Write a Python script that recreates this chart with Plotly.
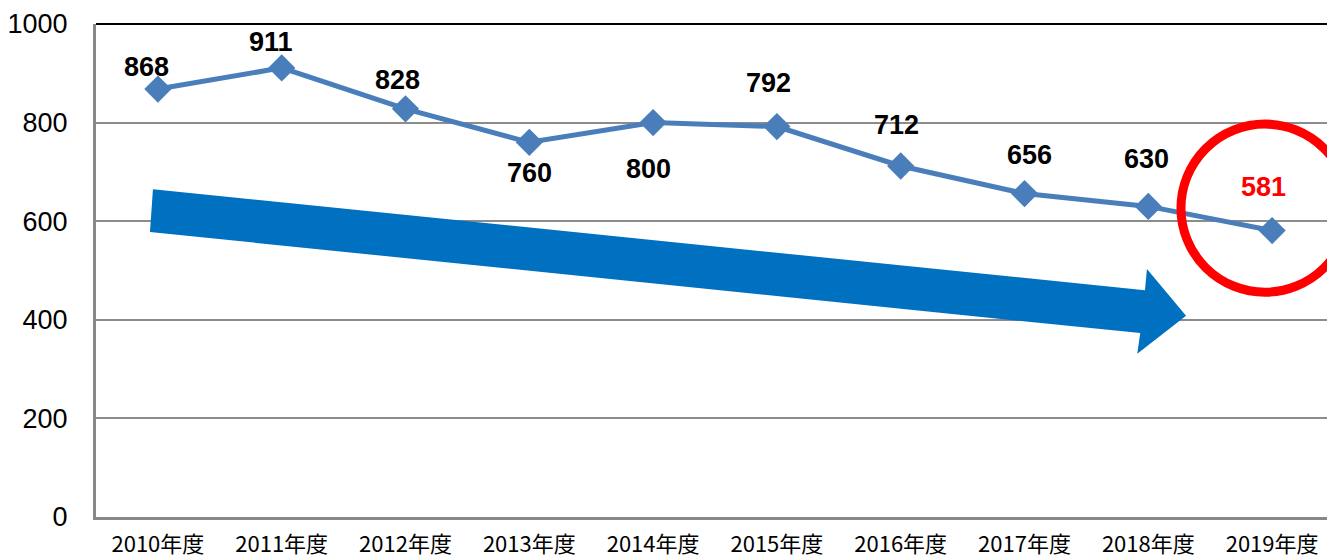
import plotly.graph_objects as go

categories = ["2010年度", "2011年度", "2012年度", "2013年度", "2014年度",
              "2015年度", "2016年度", "2017年度", "2018年度", "2019年度"]
values = [868, 911, 828, 760, 800, 792, 712, 656, 630, 581]
y_ticks = [0, 200, 400, 600, 800, 1000]

# label styling (pixel offsets from each point) and colors
label_dx = [-11, -11, -8, 0, -5, -8, -4, 5, -2, -9]
label_dy = [22, 26, 29, -31, -46, 44, 41, 39, 47, 44]
label_colors = ["black"] * 9 + ["#FF0000"]

fig = go.Figure()
fig.add_trace(go.Scatter(
    x=categories, y=values, mode="lines+markers",
    line=dict(color="#4A7EBB", width=5),
    marker=dict(symbol="diamond", size=21, color="#4A7EBB"),
    hoverinfo="skip", showlegend=False,
))

for i, (c, v) in enumerate(zip(categories, values)):
    fig.add_annotation(
        x=c, y=v, text=str(v), showarrow=False,
        xshift=label_dx[i], yshift=label_dy[i],
        font=dict(family="Liberation Sans", size=27, color=label_colors[i], weight="bold"),
    )

# big blue trend arrow (data coordinates: category index, value)
arrow_pts = [(-0.040, 665), (7.973, 460), (7.989, 503), (8.305, 408),
             (7.911, 331), (7.935, 373), (-0.064, 578)]
path = "M " + " L ".join(f"{x},{y}" for x, y in arrow_pts) + " Z"
fig.add_shape(type="path", path=path, xref="x", yref="y",
              fillcolor="#0070C0", line=dict(width=0), layer="above")

# red circle highlight
fig.add_shape(type="circle", xref="x", yref="y",
              x0=8.264, x1=9.621, y0=456, y1=797,
              line=dict(color="#FF0000", width=9), layer="above")

# top border and right border
fig.add_shape(type="line", xref="paper", yref="paper", x0=0, x1=1, y0=1, y1=1,
              line=dict(color="black", width=2))
fig.add_shape(type="line", xref="paper", yref="paper", x0=1, x1=1, y0=0, y1=1,
              line=dict(color="#333333", width=1.5))

fig.update_layout(
    width=1327, height=550,
    margin=dict(l=88, r=1, t=16, b=41),
    paper_bgcolor="white", plot_bgcolor="white",
    showlegend=False,
    xaxis=dict(
        type="category", range=[-0.5, 9.5],
        showgrid=False, showline=True, linecolor="#888888", linewidth=3,
        ticks="", tickfont=dict(family="Noto Sans CJK JP", size=22, color="black"),
        ticklabelstandoff=6, fixedrange=True,
    ),
    yaxis=dict(
        range=[0, 1000], tickvals=y_ticks,
        showgrid=True, gridcolor="#8C8C8C", gridwidth=2,
        showline=True, linecolor="#888888", linewidth=3,
        zeroline=False, ticks="",
        tickfont=dict(family="Liberation Sans", size=27, color="black"),
        ticklabelstandoff=20, fixedrange=True,
    ),
)

fig.write_html("out.html")
